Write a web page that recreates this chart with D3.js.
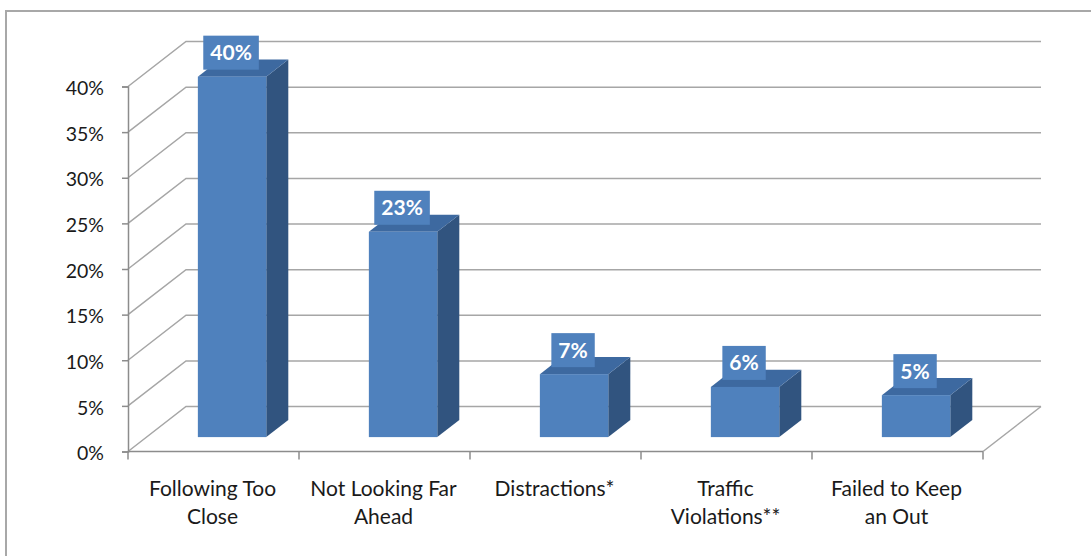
<!DOCTYPE html>
<html>
<head>
<meta charset="utf-8">
<script src="https://cdn.jsdelivr.net/npm/d3@7"></script>
<style>
  html, body { margin: 0; padding: 0; background: #ffffff; }
  svg { display: block; }
  text { font-family: Lato, "Open Sans", sans-serif; }
</style>
</head>
<body>
<svg id="chart" width="1091" height="556"></svg>
<script>
// ---- data ----
const categories = [
  ["Following Too", "Close"],
  ["Not Looking Far", "Ahead"],
  ["Distractions*"],
  ["Traffic", "Violations**"],
  ["Failed to Keep", "an Out"]
];
const values = [39.5, 22.5, 6.9, 5.5, 4.6];   // percent
const yTicks = [0, 5, 10, 15, 20, 25, 30, 35, 40];

// ---- layout ----
const svg = d3.select("#chart");
const W = 1091, H = 556;
const x0 = 128, x1 = 983;
const yBottom = 451.5, yTop = 86.5;
const depth = { dx: 58, dy: -45 };
const f0 = 0.32, f1 = 0.70;   // bar depth position (fraction of wall depth)
const backRight = 1041;

const idx = categories.map((d, i) => i);
const x = d3.scaleBand().domain(idx).range([x0, x1]).paddingInner(0.6).paddingOuter(0.3);
const xCat = d3.scaleBand().domain(idx).range([x0, x1]);
const y = d3.scaleLinear().domain([0, 40]).range([yBottom, yTop]);

// chart border (left and top visible)
svg.append("path")
  .attr("d", `M6,${H + 5}V11H${W + 5}`)
  .attr("fill", "none").attr("stroke", "#a8a8a8").attr("stroke-width", 2);

const gridColor = "#a6a6a6";
const grid = svg.append("g").attr("fill", "none").attr("stroke", gridColor).attr("stroke-width", 1.5);
yTicks.forEach(t => {
  const yy = y(t);
  grid.append("path")
    .attr("d", `M${x0},${yy}L${x0 + depth.dx},${yy + depth.dy}H${backRight}`);
});
grid.append("path")
  .attr("d", `M${x1},${y(0)}L${x1 + depth.dx},${y(0) + depth.dy}`);

// axes
const axisColor = "#8c8c8c";
const yAxis = d3.axisLeft(y).tickValues(yTicks).tickSize(6).tickPadding(18)
  .tickFormat(d => d + "%");
const gy = svg.append("g").attr("transform", `translate(${x0},0)`).call(yAxis);
gy.select(".domain").attr("stroke", axisColor).attr("stroke-width", 1.5);
gy.selectAll(".tick line").attr("stroke", axisColor).attr("stroke-width", 1.5);
gy.selectAll(".tick text")
  .attr("font-family", "Lato, sans-serif").attr("font-size", 19.5)
  .attr("fill", "#1a1a1a").attr("dy", "0.42em");

const gx = svg.append("g");
gx.append("line").attr("x1", x0).attr("x2", x1).attr("y1", y(0)).attr("y2", y(0))
  .attr("stroke", axisColor).attr("stroke-width", 1.5);
const bounds = idx.map(i => xCat(i)).concat([x1]);
gx.selectAll("line.tk").data(bounds).join("line").attr("class", "tk")
  .attr("x1", d => d).attr("x2", d => d)
  .attr("y1", y(0)).attr("y2", y(0) + 8)
  .attr("stroke", axisColor).attr("stroke-width", 1.5);

const catG = gx.selectAll("text.cat").data(categories).join("text").attr("class", "cat")
  .attr("text-anchor", "middle")
  .attr("font-size", 21).attr("fill", "#1a1a1a")
  .attr("transform", (d, i) => `translate(${xCat(i) + xCat.bandwidth() / 2 - 1},496)`);
catG.selectAll("tspan").data(d => d).join("tspan")
  .attr("x", 0).attr("y", (d, j) => j * 28).text(d => d);

// bars
const frontColor = "#4F81BD", sideColor = "#31547F", topColor = "#3D69A0";
const ddx = (f1 - f0) * depth.dx, ddy = (f1 - f0) * depth.dy;
const bars = svg.append("g");
values.forEach((v, i) => {
  const bx = x(i) + f0 * depth.dx;
  const bw = x.bandwidth();
  const by = y(v) + f0 * depth.dy;
  const bb = y(0) + f0 * depth.dy;
  const g = bars.append("g");
  g.append("path")
    .attr("d", `M${bx + bw},${by}L${bx + bw + ddx},${by + ddy}L${bx + bw + ddx},${bb + ddy}L${bx + bw},${bb}Z`)
    .attr("fill", sideColor);
  g.append("path")
    .attr("d", `M${bx},${by}L${bx + bw},${by}L${bx + bw + ddx},${by + ddy}L${bx + ddx},${by + ddy}Z`)
    .attr("fill", topColor);
  g.append("rect").attr("x", bx).attr("y", by).attr("width", bw).attr("height", bb - by)
    .attr("fill", frontColor);

  const cx = bx + bw / 2 - 1;
  const boxBottom = by - 7;
  const lg = g.append("g");
  const rect = lg.append("rect").attr("fill", frontColor);
  const t = lg.append("text")
    .attr("x", cx).attr("y", boxBottom - 17)
    .attr("text-anchor", "middle").attr("dy", "0.36em")
    .attr("font-size", 21).attr("font-weight", "bold").attr("fill", "#ffffff")
    .text(Math.round(v) + "%");
  const tw = t.node().getComputedTextLength();
  rect.attr("x", cx - tw / 2 - 7).attr("width", tw + 14)
    .attr("y", boxBottom - 34).attr("height", 34);
});
</script>
</body>
</html>
